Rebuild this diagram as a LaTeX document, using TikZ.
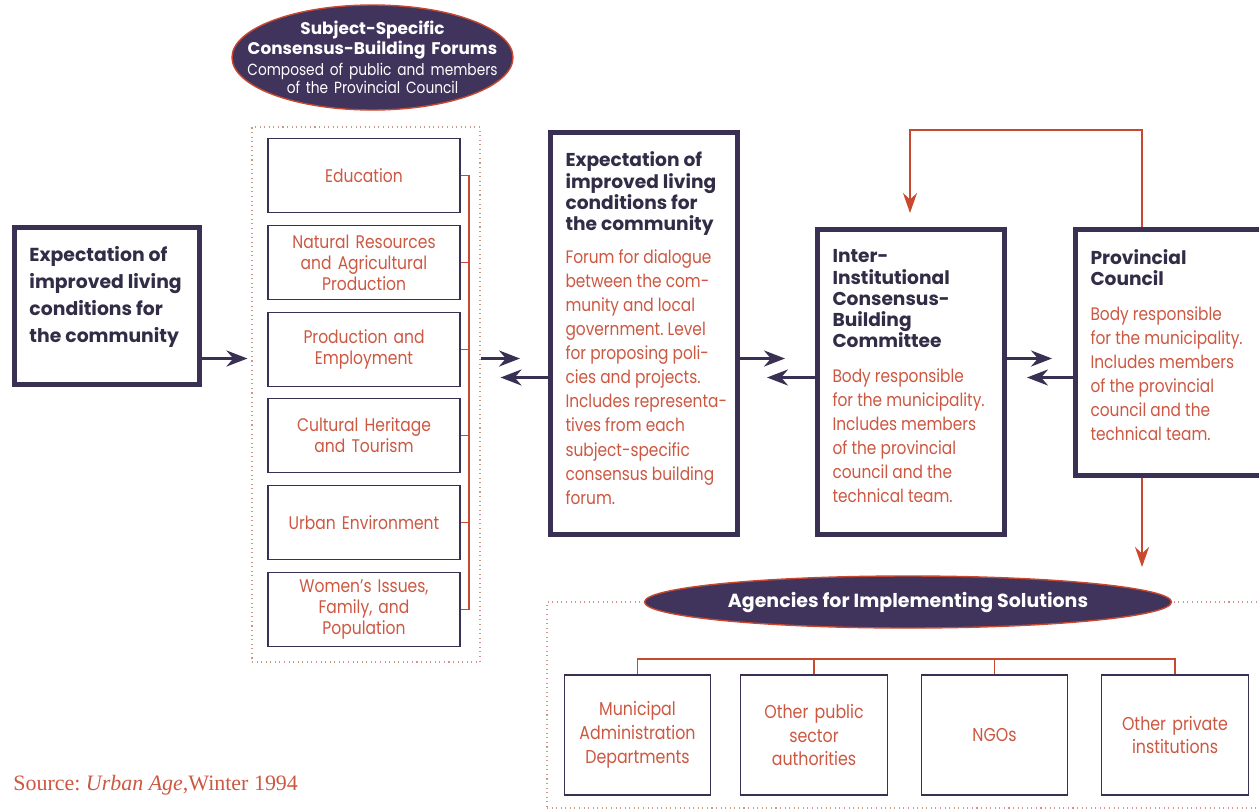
\documentclass[tikz,border=0pt]{standalone}
\usepackage{fontspec}
\setmainfont{Poppins}[UprightFeatures={FakeStretch=0.85}]
\newfontfamily\sourcefont{Liberation Serif}
\usetikzlibrary{arrows.meta}
\usetikzlibrary{shapes.geometric}
\definecolor{navyline}{RGB}{58,48,84}
\definecolor{navytext}{RGB}{50,44,70}
\definecolor{bubblefill}{RGB}{64,52,92}
\definecolor{redline}{RGB}{200,72,48}
\definecolor{redtext}{RGB}{204,88,66}
\definecolor{dotline}{RGB}{205,150,140}
\pgfdeclarelayer{edgelayer}
\pgfdeclarelayer{nodelayer}
\pgfsetlayers{edgelayer,nodelayer,main}
\newcommand{\boxhead}{\fontsize{10.6}{12.1}\selectfont\bfseries\color{navytext}}
\newcommand{\boxbody}{\fontsize{10.3}{13.7}\selectfont\color{redtext}}
\tikzstyle{bigbox}=[rectangle,fill=white,draw=navyline,line width=2.8pt,inner sep=0.3cm]
\tikzstyle{topic}=[rectangle,fill=white,draw=navyline,line width=0.7pt,minimum width=3.84cm,minimum height=1.48cm,text width=3.6cm,align=center,text=redtext,font=\fontsize{10.4}{11.9}\selectfont]
\tikzstyle{agency}=[rectangle,fill=white,draw=navyline,line width=0.7pt,minimum width=2.86cm,minimum height=2.40cm,text width=2.7cm,align=center,text=redtext,font=\fontsize{10.6}{13.6}\selectfont]
\tikzstyle{bubble}=[ellipse,fill=bubblefill,draw=redline,line width=0.8pt,inner sep=0pt,text=white,align=center]
\tikzstyle{group}=[rectangle,draw=dotline,dotted,line width=0.6pt]
\tikzstyle{source}=[inner sep=0pt,text=redtext,font=\sourcefont\fontsize{12.5}{14}\selectfont]
\tikzstyle{flow}=[-{Stealth[length=0.42cm,width=0.32cm]},draw=navyline,line width=1.7pt]
\tikzstyle{feedback}=[-{Stealth[length=0.4cm,width=0.28cm]},draw=redline,line width=1.2pt]
\tikzstyle{link}=[draw=redline,line width=0.8pt]

\begin{document}
\begin{tikzpicture}
	\useasboundingbox (0, 0) rectangle (25.18, -16.22);
	\begin{pgfonlayer}{nodelayer}
		\node [style=bigbox] (0) at (2.14, -6.12) {\parbox[t][2.54cm][t]{3.10cm}{\vspace*{2.5pt}\raggedright\fontsize{10.7}{15.3}\selectfont\bfseries\color{navytext}Expectation~of\\improved~living\\conditions~for\\the~community}};
		\node [style=bigbox] (1) at (12.88, -6.67) {\parbox[t][7.44cm][t]{3.14cm}{\vspace*{2.5pt}\raggedright{\boxhead Expectation~of\\improved~living\\conditions~for\\the~community\par}\vspace{5pt}{\boxbody Forum~for~dialogue\\between~the~com-\\munity~and~local\\government.~Level\\for~proposing~poli-\\cies~and~projects.\\\mbox{Includes representa-}\\tives~from~each\\subject-specific\\consensus~building\\forum.\par}}};
		\node [style=bigbox] (2) at (18.22, -7.64) {\parbox[t][5.50cm][t]{3.14cm}{\vspace*{3pt}\raggedright{\boxhead Inter-\\Institutional\\Consensus-\\Building\\Committee\par}\vspace{6pt}{\boxbody Body~responsible\\for~the~municipality.\\Includes~members\\of~the~provincial\\council~and~the\\technical~team.\par}}};
		\node [style=bigbox] (3) at (23.38, -7.05) {\parbox[t][4.32cm][t]{3.14cm}{\vspace*{3pt}\raggedright{\boxhead Provincial\\Council\par}\vspace{6pt}{\boxbody Body~responsible\\for~the~municipality.\\Includes~members\\of~the~provincial\\council~and~the\\technical~team.\par}}};
		\node [style=bubble, minimum width=5.62cm, minimum height=2.1cm, text width=5.1cm, inner xsep=-0.565cm] (4) at (7.45, -1.15) {{\fontsize{9.6}{9.8}\selectfont\bfseries Subject-Specific\\Consensus-Building Forums\par}\vspace{1pt}{\fontsize{9.2}{9.4}\selectfont Composed of public and members\\of the Provincial Council\par}};
		\node [style=topic] (6) at (7.28, -3.51) {Education};
		\node [style=topic] (7) at (7.28, -5.25) {Natural Resources\\and Agricultural\\Production};
		\node [style=topic] (8) at (7.28, -6.99) {Production and\\Employment};
		\node [style=topic] (9) at (7.28, -8.71) {Cultural Heritage\\and Tourism};
		\node [style=topic] (10) at (7.28, -10.45) {Urban Environment};
		\node [style=topic] (11) at (7.28, -12.19) {Women’s Issues,\\Family, and\\Population};
		\node [style=bubble, minimum width=10.54cm, minimum height=1.04cm, inner xsep=0.03cm, font=\fontsize{10.8}{13}\selectfont\bfseries] (12) at (18.16, -12.04) {Agencies for Implementing Solutions};
		\node [style=agency] (13) at (12.75, -14.70) {Municipal\\Administration\\Departments};
		\node [style=agency] (14) at (16.28, -14.70) {Other public\\sector\\authorities};
		\node [style=agency] (15) at (19.89, -14.70) {NGOs};
		\node [style=agency] (16) at (23.50, -14.70) {Other private\\institutions};
		\node [style=source, anchor=base west] (18) at (0.26, -15.80) {\frenchspacing Source: \textit{Urban Age},Winter 1994};
	\end{pgfonlayer}
	\begin{pgfonlayer}{edgelayer}
		\node [style=group, minimum width=4.56cm, minimum height=10.70cm] (5) at (7.32, -7.89) {};
		\node [style=group, minimum width=14.36cm, minimum height=4.12cm] (17) at (18.12, -14.10) {};
		\coordinate (20) at (9.38, -3.51);
		\coordinate (21) at (9.38, -12.19);
		\coordinate (22) at (12.75, -13.18);
		\coordinate (24) at (22.84, -2.60);
		\coordinate (25) at (18.20, -2.60);
		\coordinate (26) at (18.20, -4.26);
		\coordinate (27) at (22.84, -11.34);
		\coordinate (28) at (0, -7.17);
		\coordinate (29) at (0, -7.55);
		\draw [style=link] (6.east) -- (20) -- (21) -- (11.east);
		\foreach \n in {7,...,10}
			\draw [style=link] (\n.east) -- (\n.east -| 20);
		\draw [style=link] (13.north) -- (13.north |- 22) -- (16.north |- 22) -- (16.north);
		\foreach \n in {14,15}
			\draw [style=link] (\n.north) -- (\n.north |- 22);
		\draw [style=flow, shorten >=0.08cm] (0.east |- 28) -- (5.west |- 28);
		\draw [style=flow, shorten >=0.56cm] (5.east |- 28) -- (1.west |- 28);
		\draw [style=flow, shorten >=0.40cm] (1.west |- 29) -- (5.east |- 29);
		\draw [style=flow, shorten >=0.60cm] (1.east |- 28) -- (2.west |- 28);
		\draw [style=flow, shorten >=0.54cm] (2.west |- 29) -- (1.east |- 29);
		\draw [style=flow, shorten >=0.42cm] (2.east |- 28) -- (3.west |- 28);
		\draw [style=flow, shorten >=0.40cm] (3.west |- 29) -- (2.east |- 29);
		\draw [style=feedback] (3.north -| 24) -- (24) -- (25) -- (26);
		\draw [style=feedback] (3.south -| 24) -- (27);
	\end{pgfonlayer}
\end{tikzpicture}
\end{document}
